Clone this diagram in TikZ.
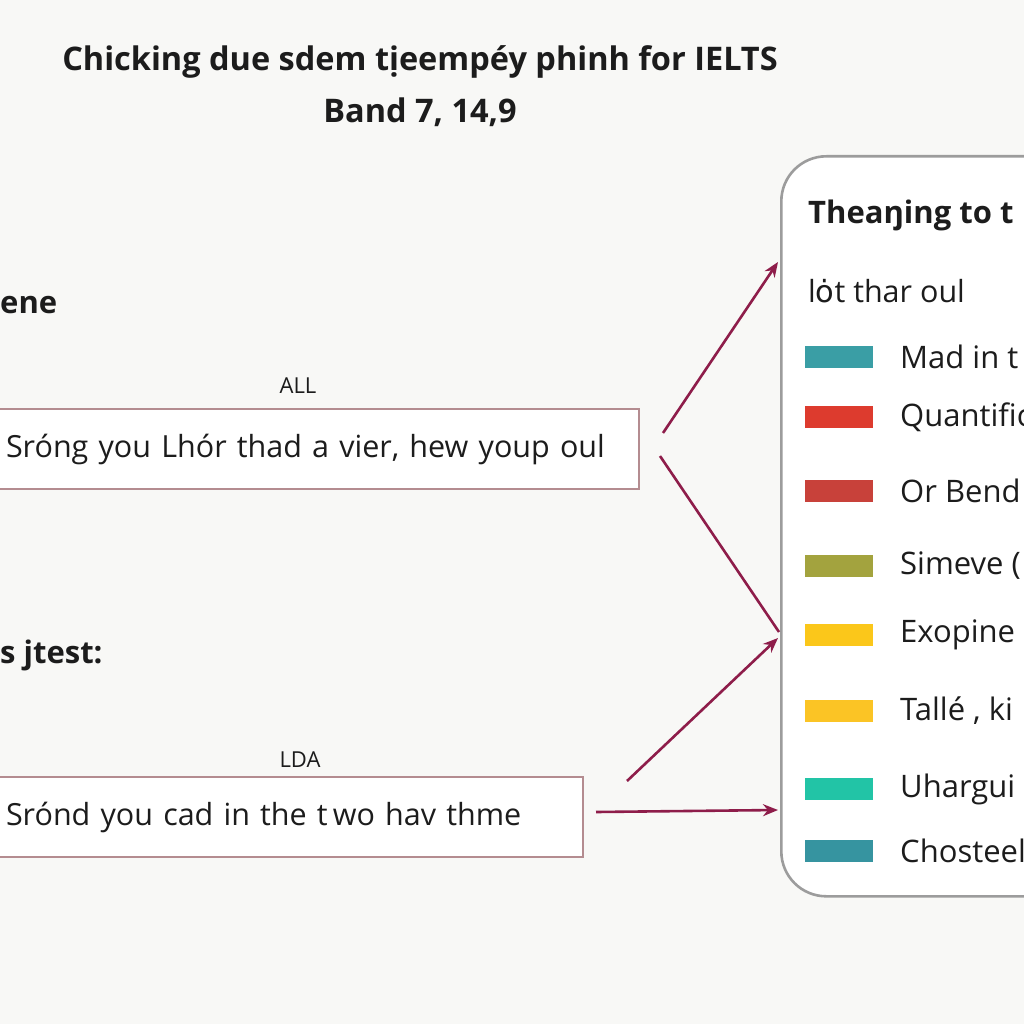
\documentclass[tikz,border=0pt]{standalone}
\usepackage{fontspec}
\setmainfont{Open Sans}
\newfontfamily\dejavu{DejaVu Sans}
\usetikzlibrary{arrows.meta}

\definecolor{paper}{HTML}{F8F8F6}
\definecolor{ink}{HTML}{1C1C1C}
\definecolor{boxline}{HTML}{B48C90}
\definecolor{maroon}{HTML}{8E1D4A}
\definecolor{panelline}{HTML}{9C9C9C}
\definecolor{cTeal}{HTML}{3A9EA5}
\definecolor{cRed}{HTML}{DD3B2E}
\definecolor{cBrick}{HTML}{C8413A}
\definecolor{cOlive}{HTML}{A3A33E}
\definecolor{cYellow}{HTML}{FBC71A}
\definecolor{cGold}{HTML}{FBC425}
\definecolor{cMint}{HTML}{22C4A6}
\definecolor{cSea}{HTML}{3694A0}

\begin{document}
\begin{tikzpicture}[x=1pt, y=-1pt,
textbox/.style={draw=boxline, line width=2pt, fill=white, anchor=west,
  minimum height=80pt, align=left, inner xsep=15pt, text=ink,
  font=\fontsize{30.5}{36}\selectfont},
tag/.style={text=ink, font=\fontsize{22}{26}\selectfont},
link/.style={draw=maroon, line width=2.6pt, -{Stealth[length=15pt,width=12pt]}},
swatch/.style={minimum width=68pt, minimum height=22pt, inner sep=0pt, anchor=west},
entry/.style={anchor=west, text=ink, inner sep=0pt, font=\fontsize{31}{36}\selectfont}]

\def\W{1024}
\def\swX{805}
\def\txX{900}

% CANVAS
\fill[paper] (0,0) rectangle (\W,\W);
\useasboundingbox (0,0) rectangle (\W,\W);
\clip (0,0) rectangle (\W,\W);

% TITLE
\node[text=ink, font=\bfseries\fontsize{32.5}{38}\selectfont] (title) at (420,62)
  {Chicking due sdem tịeempéy phinh for IELTS};
\node[text=ink, font=\bfseries\fontsize{32.5}{38}\selectfont] (band) at (420,112)
  {Band 7, 14,9};

% LEFT SIDE
\node[anchor=west, text=ink, inner sep=0pt, font=\bfseries\fontsize{31}{36}\selectfont] (head1) at (0,305) {ene};
\node[anchor=west, text=ink, inner sep=0pt, font=\bfseries\fontsize{31}{36}\selectfont] (head2) at (0,655) {s jtest:};

\node[tag] (tag1) at (298,386) {ALL};
\node[textbox, minimum width=648pt, text width=618pt] (box1) at (-10,449)
  {Sróng you Lhór thad a vier, hew youp oul};

\node[tag] (tag2) at (300,760) {LDA};
\node[textbox, minimum width=592pt, text width=562pt] (box2) at (-10,817)
  {Srónd you cad in the t\,wo hav thme};

% PANEL
\node[draw=panelline, line width=2.6pt, fill=white, rounded corners=45pt,
  anchor=north west, minimum width=300pt, minimum height=740pt] (panel) at (780,155) {};
\node[anchor=west, text=ink, inner sep=0pt, font=\bfseries\fontsize{31}{36}\selectfont] (ptitle) at (808,215) {Theaŋing to t};
\node[entry, font=\fontsize{30.5}{36}\selectfont] (psub) at (808,291) {l{\dejavu ȯ}t thar oul};

% LEGEND
\foreach \col/\txt/\yy [count=\k] in {cTeal/Mad in t/357, cRed/Quantific/417, cBrick/Or Bend/491,
  cOlive/Simeve (/566, cYellow/Exopine/635, cGold/{Tallé , ki}/711, cMint/Uhargui/789, cSea/Chosteel/851}{
  \node[swatch, fill=\col] (sw\k) at (\swX,\yy) {};
  \node[entry] (lg\k) at (\txX,\yy) {\txt};
}

% ARROWS
\coordinate (s1) at (663,433);
\coordinate (s2) at (660,456);
\coordinate (s3) at (627,781);
\coordinate (s4) at (596,812);
\coordinate (e1) at (778,262);
\coordinate (e2) at (779,632);
\coordinate (e3) at (778,638);
\coordinate (e4) at (778,810);
\draw[link] (s1) -- (e1);
\draw[draw=maroon, line width=2.6pt] (s2) -- (e2);
\draw[link] (s3) -- (e3);
\draw[link] (s4) -- (e4);

\end{tikzpicture}
\end{document}
